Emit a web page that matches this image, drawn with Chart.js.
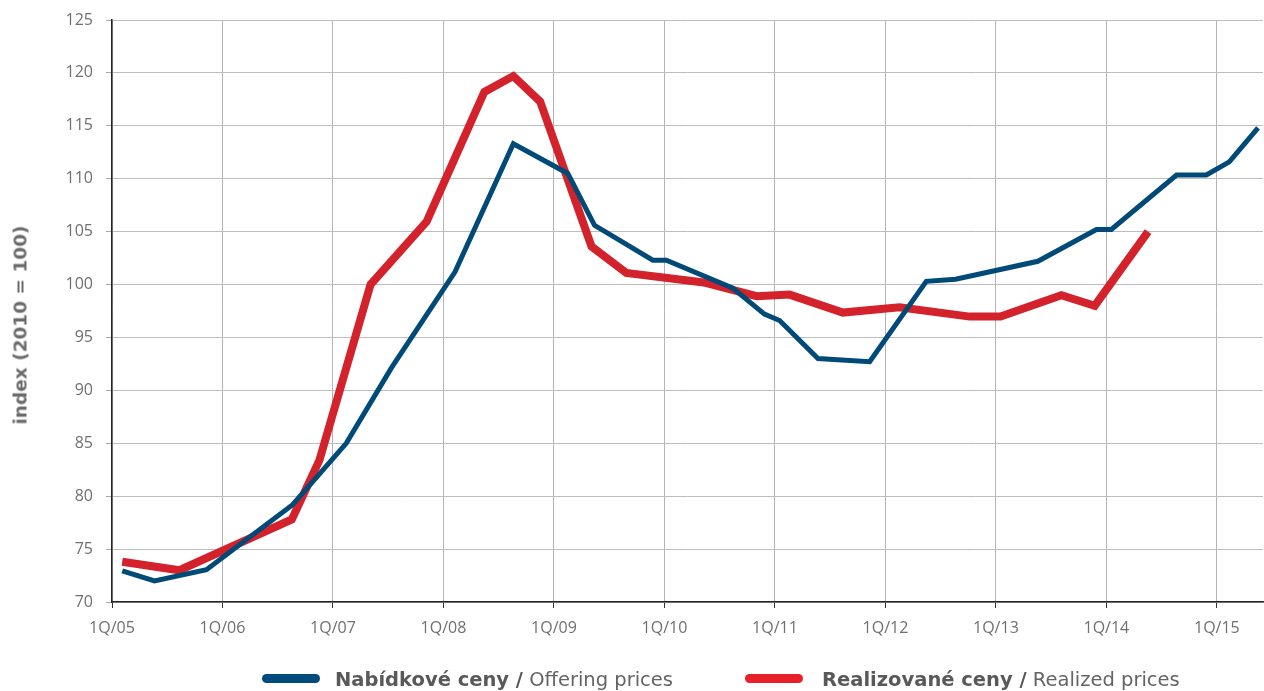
<!DOCTYPE html>
<html>
<head>
<meta charset="utf-8">
<script src="https://cdn.jsdelivr.net/npm/chart.js@4.4.1/dist/chart.umd.min.js"></script>
<style>
  html, body { margin: 0; padding: 0; background: #fff; }
  #wrap { position: relative; width: 1264px; height: 691px; overflow: hidden; }
  #c { position: absolute; left: 0; top: 0; }
  .ytitle {
    position: absolute; left: 20px; top: 325px;
    transform: translate(-50%, -50%) rotate(-90deg);
    font: bold 18.5px "DejaVu Sans", sans-serif; color: #6a6a6a; white-space: nowrap;
  }
  .leg-text {
    position: absolute; top: 668px; line-height: 19px;
    font: 19.5px "DejaVu Sans", sans-serif; color: #646464; white-space: nowrap;
  }
  .leg-text b { font-weight: 700; color: #595959; }
  .pill { position: absolute; top: 674px; height: 9px; border-radius: 5px; }
</style>
</head>
<body>
<div id="wrap">
  <canvas id="c" width="1264" height="691"></canvas>
  <div class="ytitle" id="ytitle"></div>
</div>
<script>
// Quarter positions counted from 1Q/05 (0 = 1Q/05, 4 = 1Q/06, ...)
const offeringQ = [0.37, 1.54, 3.42, 6.54, 8.48, 10.11, 12.42, 14.53, 16.50, 17.47, 19.58, 20.07,
                   22.48, 23.62, 24.17, 25.56, 27.43, 29.48, 30.54, 33.52, 35.64, 36.18, 38.54,
                   39.62, 40.45, 41.49];
const offeringVal = [72.95, 72.0, 73.05, 79.2, 85.0, 92.1, 101.2, 113.3, 110.5, 105.6, 102.3, 102.3,
                     99.65, 97.2, 96.6, 93.0, 92.7, 100.3, 100.5, 102.2, 105.2, 105.2, 110.35,
                     110.35, 111.6, 114.8];

const realizedQ = [0.37, 2.44, 6.51, 7.51, 9.36, 11.39, 13.48, 14.53, 15.50, 17.36, 18.62, 21.42,
                   23.34, 24.53, 26.46, 28.51, 31.05, 32.17, 34.37, 35.58, 37.51];
const realizedVal = [73.8, 73.0, 77.8, 83.4, 100.0, 105.95, 118.2, 119.7, 117.3, 103.6, 101.1, 100.2,
                     98.9, 99.05, 97.35, 97.85, 96.97, 96.97, 99.0, 98.0, 105.0];

const yearLabels = ['1Q/05', '1Q/06', '1Q/07', '1Q/08', '1Q/09', '1Q/10',
                    '1Q/11', '1Q/12', '1Q/13', '1Q/14', '1Q/15'];

const seriesNamesCz = ['Nabídkové ceny', 'Realizované ceny'];
const seriesNamesEn = ['Offering prices', 'Realized prices'];
const yTitle = 'index (2010 = 100)';

const BLUE = '#004A78';
const RED = '#D3222B';
const LEGEND_COLORS = ['#004B7C', '#E8202A'];

const toPoints = (xs, ys) => xs.map((x, i) => ({ x: x, y: ys[i] }));

document.getElementById('ytitle').textContent = yTitle;

// legend below the plot
const wrap = document.getElementById('wrap');
const legendPos = [{ pill: 262, text: 335 }, { pill: 745, text: 822 }];
seriesNamesCz.forEach((name, i) => {
  const pill = document.createElement('div');
  pill.className = 'pill';
  pill.style.left = legendPos[i].pill + 'px';
  pill.style.width = '58px';
  pill.style.background = LEGEND_COLORS[i];
  wrap.appendChild(pill);
  const t = document.createElement('div');
  t.className = 'leg-text';
  t.style.left = legendPos[i].text + 'px';
  const b = document.createElement('b');
  b.textContent = name + ' /';
  t.appendChild(b);
  t.appendChild(document.createTextNode(' ' + seriesNamesEn[i]));
  wrap.appendChild(t);
});

const tickFont = { family: '"Open Sans", sans-serif', size: 16 };

new Chart(document.getElementById('c'), {
  type: 'line',
  data: {
    datasets: [
      {
        label: seriesNamesCz[0] + ' / ' + seriesNamesEn[0],
        data: toPoints(offeringQ, offeringVal),
        borderColor: BLUE,
        borderWidth: 5,
        pointRadius: 0,
        tension: 0,
        borderJoinStyle: 'miter',
        borderCapStyle: 'butt',
        fill: false
      },
      {
        label: seriesNamesCz[1] + ' / ' + seriesNamesEn[1],
        data: toPoints(realizedQ, realizedVal),
        borderColor: RED,
        borderWidth: 8,
        pointRadius: 0,
        tension: 0,
        borderJoinStyle: 'miter',
        borderCapStyle: 'butt',
        fill: false
      }
    ]
  },
  options: {
    responsive: false,
    animation: false,
    layout: { padding: { left: 0, right: 1, top: 20, bottom: 0 } },
    plugins: { legend: { display: false }, tooltip: { enabled: false } },
    scales: {
      x: {
        type: 'linear',
        min: 0,
        max: 41.67,
        afterBuildTicks: s => { s.ticks = yearLabels.map((_, i) => ({ value: i * 4 })); },
        afterFit: s => { s.height = 89; },
        ticks: {
          callback: (v, i) => yearLabels[i],
          font: tickFont,
          color: '#707070',
          padding: 11,
          maxRotation: 0,
          autoSkip: false
        },
        grid: { color: '#b4b4b4', lineWidth: 1, tickLength: 6, tickColor: '#333' },
        border: { color: '#222', width: 1.5 }
      },
      y: {
        min: 70,
        max: 125,
        afterFit: s => { s.width = 112; s.paddingTop = 0; s.paddingBottom = 0; },
        ticks: { stepSize: 5, font: tickFont, color: '#707070', padding: 13 },
        grid: { color: '#bdbdbd', lineWidth: 1, tickLength: 6, tickColor: '#aaa' },
        border: { color: '#222', width: 1.5 }
      }
    }
  }
});
</script>
</body>
</html>
